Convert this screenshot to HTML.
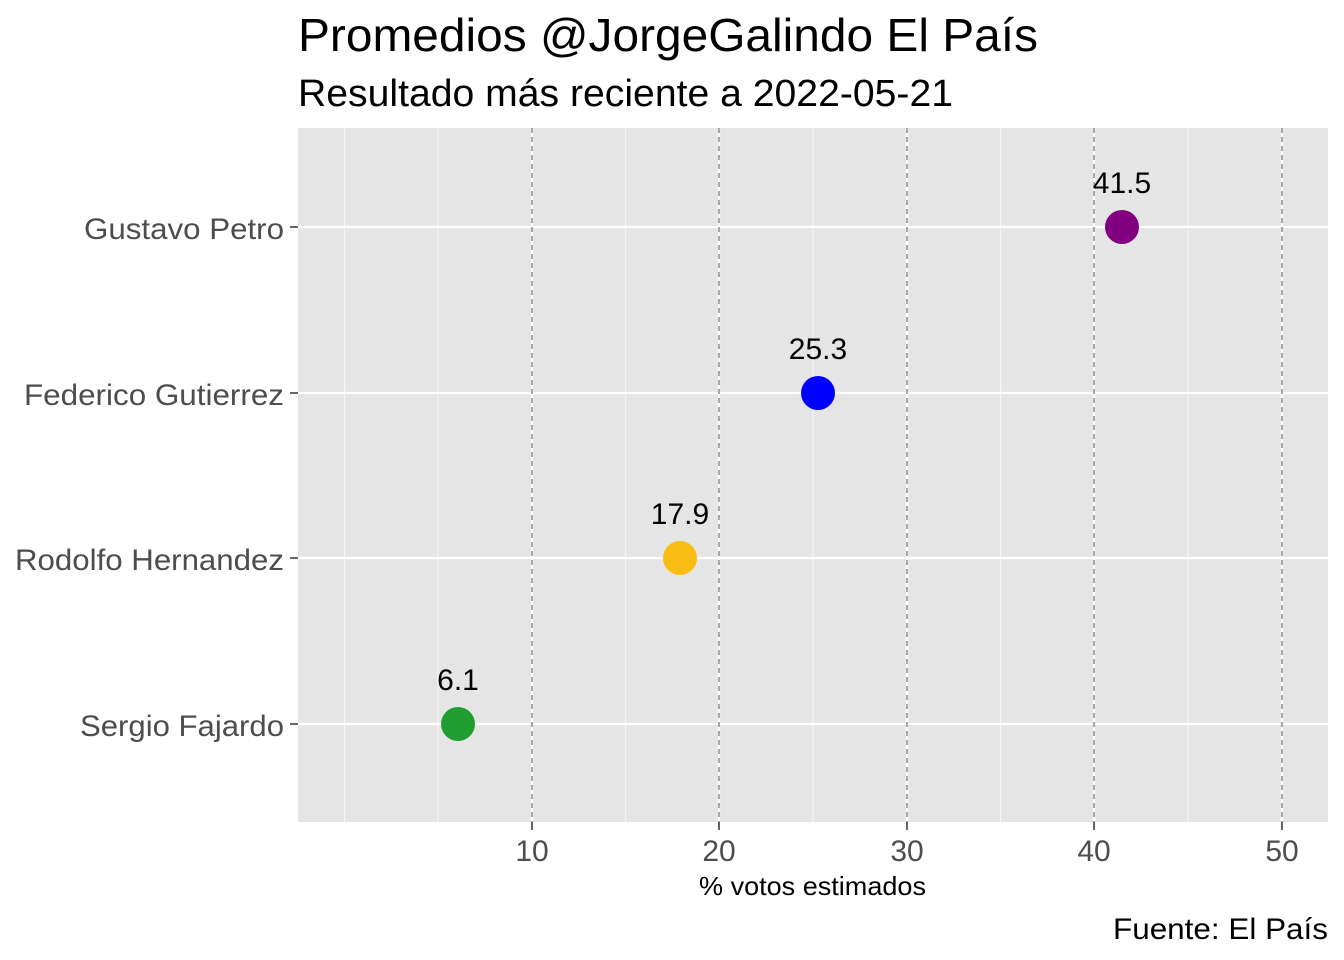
<!DOCTYPE html>
<html><head><meta charset="utf-8"><style>body{margin:0;background:#fff}svg{display:block}text{font-family:"Liberation Sans",Arial,sans-serif}</style></head>
<body>
<svg width="1344" height="960" xmlns="http://www.w3.org/2000/svg">
<rect width="1344" height="960" fill="#fff"/>
<text x="298" y="51" font-size="46" fill="#000" textLength="740" lengthAdjust="spacingAndGlyphs">Promedios @JorgeGalindo El País</text>
<text x="298" y="106" font-size="38" fill="#000" textLength="655" lengthAdjust="spacingAndGlyphs">Resultado más reciente a 2022-05-21</text>
<rect x="298" y="128" width="1030" height="694" fill="#e5e5e5"/>
<g stroke="#f5f5f5" stroke-width="1.2">
<line x1="344.5" y1="128" x2="344.5" y2="822"/><line x1="438" y1="128" x2="438" y2="822"/>
<line x1="625.5" y1="128" x2="625.5" y2="822"/><line x1="813" y1="128" x2="813" y2="822"/>
<line x1="1000.5" y1="128" x2="1000.5" y2="822"/><line x1="1188" y1="128" x2="1188" y2="822"/>
</g>
<g stroke="#fff" stroke-width="2.2">
<line x1="532" y1="128" x2="532" y2="822"/><line x1="719" y1="128" x2="719" y2="822"/>
<line x1="907" y1="128" x2="907" y2="822"/><line x1="1094" y1="128" x2="1094" y2="822"/>
<line x1="1282" y1="128" x2="1282" y2="822"/>
<line x1="298" y1="227" x2="1328" y2="227"/><line x1="298" y1="393" x2="1328" y2="393"/>
<line x1="298" y1="558" x2="1328" y2="558"/><line x1="298" y1="724" x2="1328" y2="724"/>
</g>
<g stroke="#8a8a8a" stroke-width="1.5" stroke-dasharray="5,4">
<line x1="532" y1="128" x2="532" y2="822"/><line x1="719" y1="128" x2="719" y2="822"/>
<line x1="907" y1="128" x2="907" y2="822"/><line x1="1094" y1="128" x2="1094" y2="822"/>
<line x1="1282" y1="128" x2="1282" y2="822"/>
</g>
<circle cx="1122" cy="227" r="17" fill="#800080"/>
<circle cx="818" cy="393" r="17" fill="#0000ff"/>
<circle cx="680" cy="558" r="17" fill="#f9bc12"/>
<circle cx="458" cy="724" r="17" fill="#1f9e2f"/>
<g font-size="30" fill="#000" text-anchor="middle">
<text x="1122" y="193">41.5</text><text x="818" y="359">25.3</text>
<text x="680" y="524">17.9</text><text x="458" y="690">6.1</text>
</g>
<g font-size="30" fill="#4d4d4d" lengthAdjust="spacingAndGlyphs">
<text x="84" y="239" textLength="200" lengthAdjust="spacingAndGlyphs">Gustavo Petro</text>
<text x="24" y="405" textLength="260" lengthAdjust="spacingAndGlyphs">Federico Gutierrez</text>
<text x="15" y="570" textLength="269" lengthAdjust="spacingAndGlyphs">Rodolfo Hernandez</text>
<text x="80" y="736" textLength="204" lengthAdjust="spacingAndGlyphs">Sergio Fajardo</text>
</g>
<g stroke="#333" stroke-width="1.5">
<line x1="290" y1="227" x2="298" y2="227"/><line x1="290" y1="393" x2="298" y2="393"/>
<line x1="290" y1="558" x2="298" y2="558"/><line x1="290" y1="724" x2="298" y2="724"/>
<line x1="532" y1="822" x2="532" y2="830"/><line x1="719" y1="822" x2="719" y2="830"/>
<line x1="907" y1="822" x2="907" y2="830"/><line x1="1094" y1="822" x2="1094" y2="830"/>
<line x1="1282" y1="822" x2="1282" y2="830"/>
</g>
<g font-size="30" fill="#4d4d4d" text-anchor="middle">
<text x="532" y="861">10</text><text x="719" y="861">20</text><text x="907" y="861">30</text>
<text x="1094" y="861">40</text><text x="1282" y="861">50</text>
</g>
<text x="699" y="895" font-size="26" fill="#000" textLength="227" lengthAdjust="spacingAndGlyphs">% votos estimados</text>
<text x="1113" y="939" font-size="30" fill="#000" textLength="215" lengthAdjust="spacingAndGlyphs">Fuente: El País</text>
</svg>
</body></html>
